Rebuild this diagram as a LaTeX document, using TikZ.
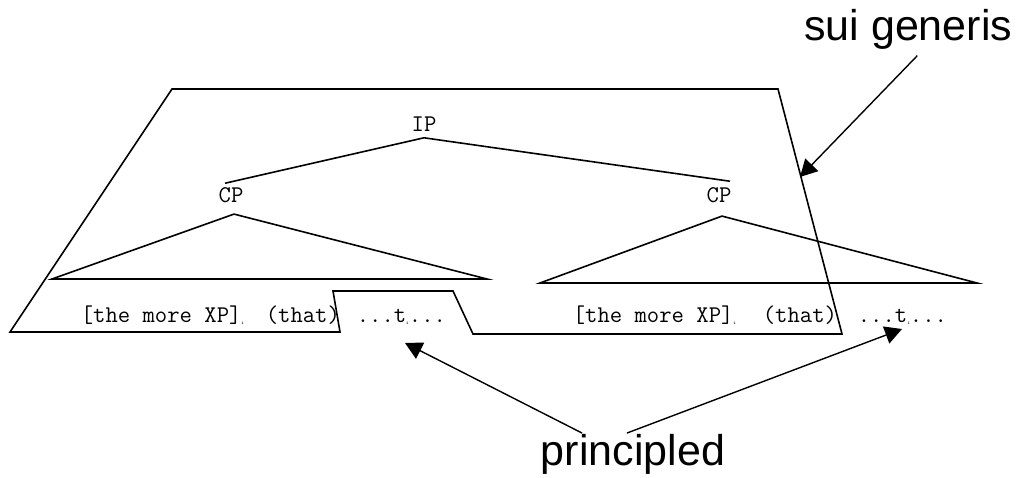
\documentclass[tikz,border=0pt]{standalone}
\usepackage{fontspec}
\setmainfont{Liberation Sans}
\usetikzlibrary{arrows.meta}

% tiny index under the line
\newcommand{\idx}{\raisebox{-2pt}{\fontsize{5}{5}\selectfont i}}

\begin{document}
\begin{tikzpicture}[
    x=1pt, y=-1pt,
    line width=1.6pt,
    mono/.style={font=\ttfamily\fontsize{24}{26}\selectfont, inner sep=0pt},
    callout/.style={font=\fontsize{43}{48}\selectfont, inner sep=0pt},
    ptr/.style={-{Triangle[length=17pt,width=18pt]}, line width=1.4pt},
]
    \useasboundingbox (0,0) rectangle (1019,478);

    % ---------- tree labels ----------
    \node[mono, anchor=base] (ip) at (424,132) {IP};
    \node[mono, anchor=base] (cpl) at (231,203) {CP};
    \node[mono, anchor=base] (cpr) at (719,203) {CP};

    \draw ([shift={(-6pt,4pt)}]cpl.north) -- ([yshift=-5pt]ip.south)
        -- ([shift={(11pt,6pt)}]cpr.north);

    % ---------- CP triangles ----------
    \draw ([shift={(3pt,-10pt)}]cpl.south) -- (52,279) -- (487,279) -- cycle;
    \draw ([shift={(3pt,-12pt)}]cpr.south) -- (540,283) -- (977,283) -- cycle;

    % ---------- terminal strings ----------
    \node[mono, anchor=base west] (lxp) at (80,322) {[the more XP]\idx};
    \node[mono, anchor=base west] (lthat) at (265,322) {(that)};
    \node[mono, anchor=base west] (ltrace) at (356,322) {...t\idx...};

    \node[mono, anchor=base west] (rxp) at (572,322) {[the more XP]\idx};
    \node[mono, anchor=base west] (rthat) at (762,322) {(that)};
    \node[mono, anchor=base west] (rtrace) at (857,322) {...t\idx...};

    % ---------- sui generis region ----------
    \draw (10,332) -- (172,89) -- (778,89) -- (842,334) -- (473,334)
        -- (453,291) -- (333,291) -- (340,332) -- cycle;

    % ---------- callouts ----------
    \node[callout, anchor=base east] (sui) at (1013,41) {sui generis};
    \node[callout, anchor=base] (princ) at (633,465) {principled};

    \coordinate (sgtip) at (800,177);
    \coordinate (ltip) at (405,343);
    \coordinate (rtip) at (902,329);

    \draw[ptr] ([shift={(9pt,-5pt)}]sui.south) -- (sgtip);
    \draw[ptr] ([xshift=-51pt]princ.north) -- (ltip);
    \draw[ptr] ([xshift=-6pt]princ.north) -- (rtip);

\end{tikzpicture}
\end{document}
